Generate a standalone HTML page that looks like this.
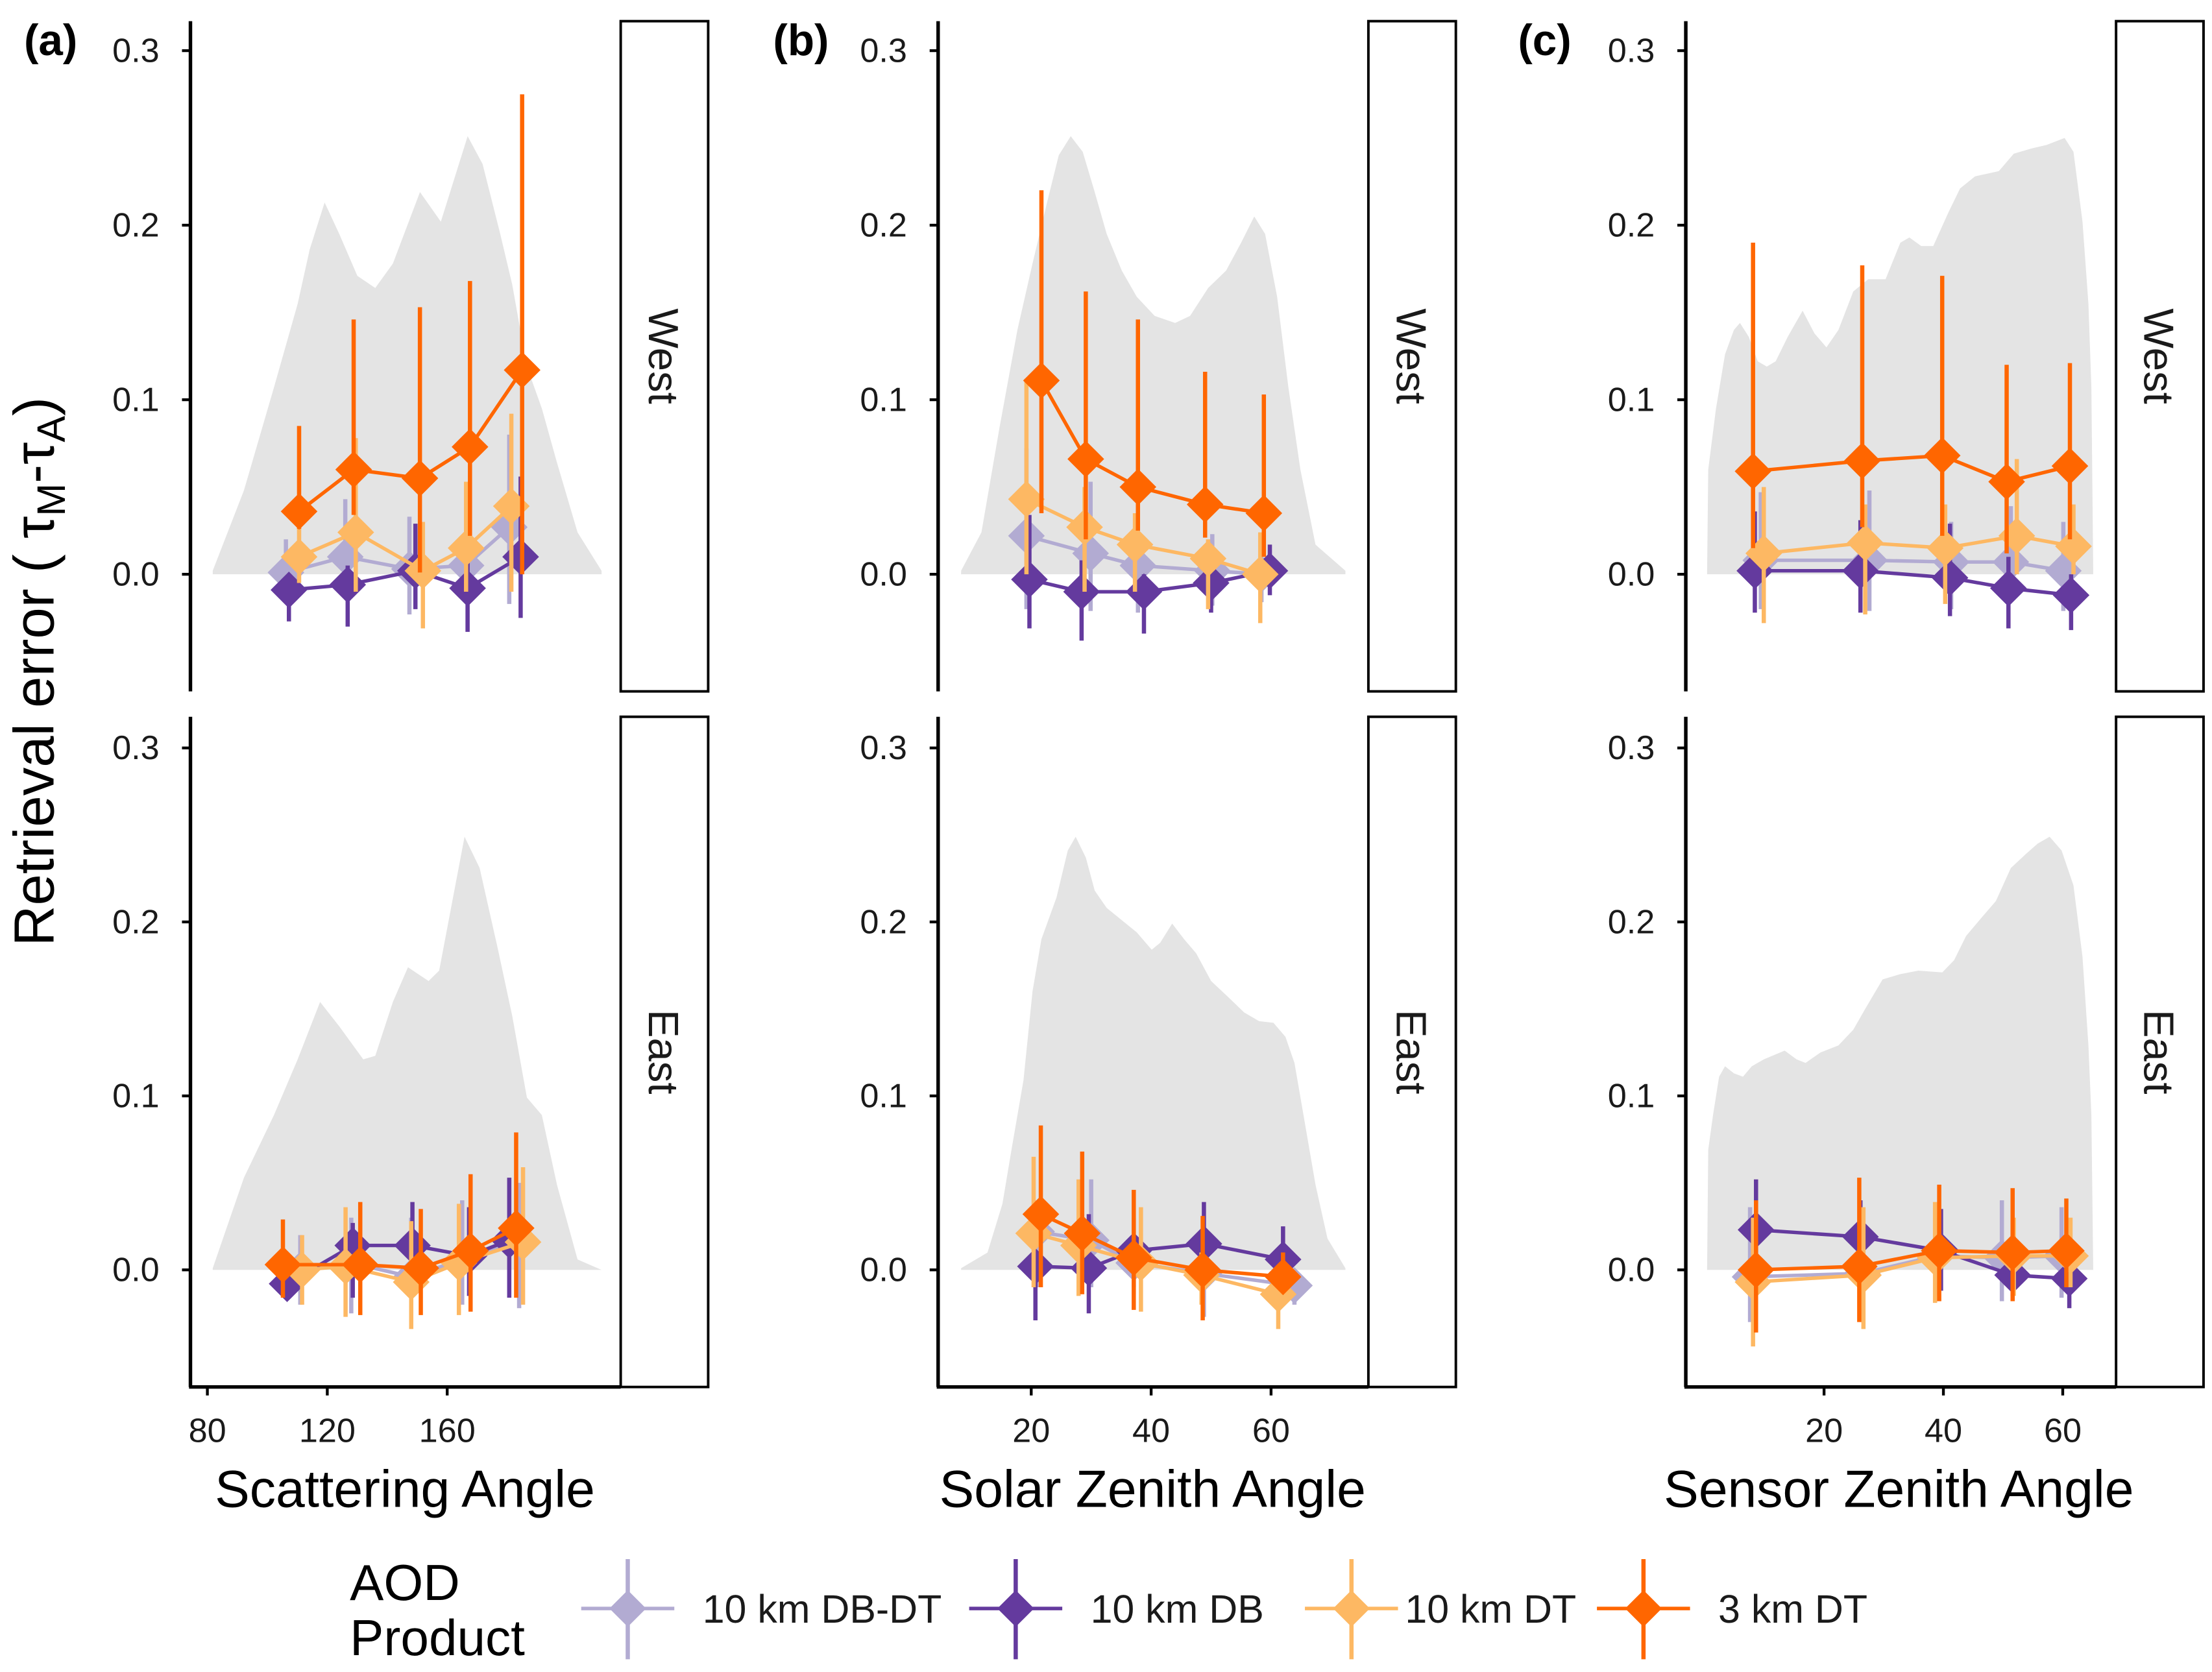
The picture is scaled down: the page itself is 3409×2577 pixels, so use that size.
<!DOCTYPE html>
<html><head><meta charset="utf-8">
<style>
html,body{margin:0;padding:0;background:#fff;}
svg{display:block;}
text{font-family:"Liberation Sans",Arial,sans-serif;}
</style></head>
<body>
<svg id="chart" width="3409" height="2577" viewBox="0 0 1568 1185" preserveAspectRatio="none" xmlns="http://www.w3.org/2000/svg">
<rect x="0" y="0" width="1568" height="1185" fill="#fff"/>
<g id="layer"></g>
<text x="17" y="39" font-size="31" font-weight="bold">(a)</text>
<text x="548" y="39" font-size="31" font-weight="bold">(b)</text>
<text x="1076" y="39" font-size="31" font-weight="bold">(c)</text>
<text transform="translate(38,476) rotate(-90)" text-anchor="middle" font-size="40">Retrieval error ( τ<tspan font-size="28" dy="8">M</tspan><tspan dy="-8">-τ</tspan><tspan font-size="28" dy="8">A</tspan><tspan dy="-8">)</tspan></text>
<text x="287" y="1068" text-anchor="middle" font-size="37">Scattering Angle</text>
<text x="817" y="1068" text-anchor="middle" font-size="37">Solar Zenith Angle</text>
<text x="1346" y="1068" text-anchor="middle" font-size="37">Sensor Zenith Angle</text>
<text x="248" y="1134" font-size="36">AOD</text>
<text x="248" y="1173" font-size="36">Product</text>
</svg>
<script>
// ---------- categories / series ----------
const seriesKeys = ["dbdt","db","dt","dt3"];
const seriesLabels = ["10 km DB-DT","10 km DB","10 km DT","3 km DT"];
const seriesColors = ["#b2abd2","#643a9e","#fdb863","#ff6600"];
const yTicks = [0.0,0.1,0.2,0.3];
const yTickLabels = ["0.0","0.1","0.2","0.3"];
const xTicksA = [80,120,160];
const xTicksB = [20,40,60];
const xTicksC = [20,40,60];

// ---------- panel (a) West ----------
const aW_dbdt_x=[106.2,126,147.4,166.3,180.7], aW_dbdt_y=[0.001,0.010,0.003,0.005,0.027], aW_dbdt_hi=[0.020,0.043,0.033,0.025,0.080], aW_dbdt_lo=[-0.010,-0.010,-0.023,-0.010,-0.017];
const aW_db_x=[107.2,126.8,149.4,166.8,184.5], aW_db_y=[-0.009,-0.006,0.002,-0.008,0.010], aW_db_hi=[0.0,0.005,0.029,0.010,0.056], aW_db_lo=[-0.027,-0.030,-0.020,-0.033,-0.025];
const aW_dt_x=[110.6,129.5,151.9,166.3,181.4], aW_dt_y=[0.010,0.024,0.002,0.015,0.039], aW_dt_hi=[0.030,0.078,0.030,0.053,0.092], aW_dt_lo=[-0.005,-0.010,-0.031,-0.010,-0.010];
const aW_dt3_x=[110.6,128.8,150.9,167.6,185], aW_dt3_y=[0.036,0.060,0.055,0.073,0.117], aW_dt3_hi=[0.085,0.146,0.153,0.168,0.275], aW_dt3_lo=[0.026,0.034,0.001,0.022,0.0];
// ---------- panel (a) East ----------
const aE_dbdt_x=[111,128,148,165,184], aE_dbdt_y=[0.0,0.004,-0.004,0.006,0.017], aE_dbdt_hi=[0.02,0.03,0.03,0.04,0.05], aE_dbdt_lo=[-0.02,-0.025,-0.03,-0.02,-0.022];
const aE_db_x=[106.6,128.5,148.4,167.3,180.7], aE_db_y=[-0.008,0.014,0.014,0.008,0.017], aE_db_hi=[0.006,0.027,0.039,0.036,0.053], aE_db_lo=[-0.017,-0.016,0.0,-0.015,-0.016];
const aE_dt_x=[111.6,126.1,148,163.9,185.3], aE_dt_y=[0,0.002,-0.007,0.004,0.016], aE_dt_hi=[0.02,0.036,0.028,0.038,0.059], aE_dt_lo=[-0.02,-0.027,-0.034,-0.026,-0.02];
const aE_dt3_x=[105.2,131,151.2,167.8,183], aE_dt3_y=[0.003,0.003,0.001,0.011,0.024], aE_dt3_hi=[0.029,0.039,0.035,0.055,0.079], aE_dt3_lo=[-0.016,-0.026,-0.026,-0.024,-0.016];
// ---------- panel (b) West ----------
const bW_dbdt_x=[19.2,29.9,37.8,50.2,58.4], bW_dbdt_y=[0.022,0.012,0.005,0.002,0.0], bW_dbdt_hi=[0.072,0.053,0.03,0.023,0.01], bW_dbdt_lo=[-0.02,-0.021,-0.022,-0.018,-0.016];
const bW_db_x=[19.7,28.4,38.8,50.0,59.8], bW_db_y=[-0.003,-0.010,-0.010,-0.005,0.002], bW_db_hi=[0.034,0.008,0.0,0.0,0.017], bW_db_lo=[-0.031,-0.038,-0.034,-0.022,-0.012];
const bW_dt_x=[19.2,28.9,37.3,49.5,58.2], bW_dt_y=[0.043,0.027,0.017,0.009,0.0], bW_dt_hi=[0.112,0.05,0.035,0.02,0.024], bW_dt_lo=[0.0,-0.01,-0.01,-0.02,-0.028];
const bW_dt3_x=[21.7,29.1,37.8,49.0,58.8], bW_dt3_y=[0.111,0.066,0.050,0.040,0.035], bW_dt3_hi=[0.220,0.162,0.146,0.116,0.103], bW_dt3_lo=[0.035,0.02,0.025,0.021,0.010];
// ---------- panel (b) East ----------
const bE_dbdt_x=[20.9,30.0,37.1,48.8,63.9], bE_dbdt_y=[0.022,0.017,0.004,-0.002,-0.009], bE_dbdt_hi=[0.04,0.052,0.03,0.01,0.0], bE_dbdt_lo=[-0.01,-0.01,-0.014,-0.027,-0.02];
const bE_db_x=[20.7,29.6,37.1,48.8,62.0], bE_db_y=[0.002,0.001,0.011,0.015,0.006], bE_db_hi=[0.01,0.032,0.02,0.039,0.025], bE_db_lo=[-0.029,-0.025,-0.01,-0.01,-0.01];
const bE_dt_x=[20.4,27.9,38.3,48.4,61.2], bE_dt_y=[0.021,0.014,0.004,-0.003,-0.014], bE_dt_hi=[0.065,0.052,0.036,0.01,0.0], bE_dt_lo=[-0.01,-0.015,-0.024,-0.02,-0.034];
const bE_dt3_x=[21.6,28.5,37.1,48.6,62.0], bE_dt3_y=[0.032,0.021,0.007,0.0,-0.004], bE_dt3_hi=[0.083,0.068,0.046,0.031,0.01], bE_dt3_lo=[-0.010,-0.014,-0.023,-0.029,-0.012];
// ---------- panel (c) West ----------
const cW_dbdt_x=[9.4,27.6,41.3,51.3,60.1], cW_dbdt_y=[0.008,0.008,0.007,0.007,0.002], cW_dbdt_hi=[0.047,0.048,0.03,0.039,0.030], cW_dbdt_lo=[-0.02,-0.021,-0.02,-0.015,-0.021];
const cW_db_x=[8.4,26.1,41.1,50.9,61.4], cW_db_y=[0.002,0.002,-0.002,-0.008,-0.012], cW_db_hi=[0.036,0.031,0.029,0.01,0.0], cW_db_lo=[-0.022,-0.022,-0.024,-0.031,-0.032];
const cW_dt_x=[9.9,26.9,40.3,52.3,61.8], cW_dt_y=[0.012,0.018,0.015,0.022,0.016], cW_dt_hi=[0.05,0.04,0.04,0.066,0.04], cW_dt_lo=[-0.028,-0.023,-0.017,0.0,0.0];
const cW_dt3_x=[8.1,26.4,39.8,50.6,61.2], cW_dt3_y=[0.059,0.065,0.068,0.053,0.062], cW_dt3_hi=[0.190,0.177,0.171,0.120,0.121], cW_dt3_lo=[0.015,0.027,0.022,0.012,0.020];
// ---------- panel (c) East ----------
const cE_dbdt_x=[7.6,26.4,38.8,49.8,59.8], cE_dbdt_y=[-0.004,-0.002,0.008,0.007,0.008], cE_dbdt_hi=[0.036,0.03,0.03,0.040,0.036], cE_dbdt_lo=[-0.03,-0.03,-0.015,-0.018,-0.016];
const cE_db_x=[8.6,26.1,39.6,51.6,61.1], cE_db_y=[0.023,0.019,0.011,-0.003,-0.005], cE_db_hi=[0.052,0.04,0.035,0.02,0.01], cE_db_lo=[0.0,0.0,-0.012,-0.015,-0.022];
const cE_dt_x=[8.1,26.6,38.6,51.8,61.3], cE_dt_y=[-0.007,-0.003,0.007,0.008,0.008], cE_dt_hi=[0.03,0.036,0.039,0.03,0.03], cE_dt_lo=[-0.044,-0.034,-0.019,-0.015,-0.01];
const cE_dt3_x=[8.6,25.9,39.3,51.6,60.6], cE_dt3_y=[0.0,0.002,0.011,0.010,0.011], cE_dt3_hi=[0.04,0.053,0.049,0.047,0.041], cE_dt3_lo=[-0.036,-0.030,-0.018,-0.018,-0.01];

// ---------- density backgrounds ----------
const dens_aW_x=[81.8,92.2,102.2,110.1,114.1,119.1,124,130,136,141.9,150.9,157.9,166.8,171.8,177.7,181.7,186.6,191.6,196.6,203.5,211.5];
const dens_aW_y=[0.002,0.048,0.107,0.155,0.186,0.213,0.195,0.171,0.164,0.178,0.219,0.202,0.251,0.235,0.195,0.166,0.119,0.095,0.064,0.024,0.002];
const dens_aE_x=[81.8,92.2,102.2,110.1,117.6,124,132,136,141.9,146.9,153.8,157.3,165.8,170.8,176.7,181.7,186.6,191.6,196.6,203.5,211.5];
const dens_aE_y=[0.001,0.053,0.089,0.121,0.154,0.140,0.121,0.123,0.154,0.174,0.166,0.172,0.249,0.231,0.186,0.146,0.099,0.089,0.049,0.006,0.0];
const dens_bW_x=[8.3,11.7,14.7,17.7,20.2,22.7,24.6,26.6,28.6,30.6,32.6,35.1,37.6,40.6,44.0,46.5,49.5,52.5,55.0,57.2,59.0,61.0,62.9,64.9,67.4,72.4];
const dens_bW_y=[0.002,0.024,0.084,0.140,0.178,0.214,0.240,0.251,0.242,0.219,0.195,0.174,0.159,0.148,0.144,0.148,0.164,0.174,0.190,0.205,0.195,0.159,0.107,0.060,0.017,0.002];
const dens_bE_x=[8.3,12.7,15.2,16.7,18.7,20.2,21.7,24.2,26.1,27.4,29.1,30.6,32.6,37.6,40.1,41.5,43.5,45.5,47.5,50.0,52.5,55.5,58.0,60.4,62.4,63.9,65.4,67.4,69.4,72.4];
const dens_bE_y=[0.001,0.010,0.038,0.069,0.109,0.160,0.190,0.214,0.241,0.249,0.237,0.218,0.208,0.194,0.184,0.188,0.199,0.190,0.182,0.166,0.158,0.148,0.143,0.142,0.134,0.119,0.089,0.049,0.018,0.001];
const dens_cW_x=[0.4,0.6,1.9,3.4,4.9,5.9,7.4,8.9,10.4,11.9,13.9,16.4,18.4,20.4,22.4,24.9,27.4,30.3,32.8,34.3,36.3,38.3,40.8,42.8,45.3,49.3,51.8,54.8,57.3,60.3,61.8,63.3,64.3,64.8,65.1];
const dens_cW_y=[0.002,0.060,0.095,0.126,0.140,0.144,0.136,0.122,0.119,0.122,0.136,0.151,0.138,0.130,0.140,0.162,0.169,0.169,0.190,0.193,0.188,0.188,0.207,0.221,0.228,0.231,0.241,0.244,0.246,0.250,0.242,0.202,0.155,0.107,0.002];
const dens_cE_x=[0.4,0.6,1.4,2.4,3.4,4.9,6.4,7.9,9.9,13.4,15.4,16.9,19.4,22.4,24.9,26.9,29.8,32.8,35.8,39.8,41.8,43.8,46.3,48.8,51.3,53.8,55.8,57.8,59.8,61.8,63.3,64.3,64.8,65.1];
const dens_cE_y=[0.001,0.069,0.089,0.111,0.117,0.113,0.111,0.117,0.121,0.126,0.121,0.119,0.125,0.129,0.138,0.150,0.167,0.170,0.172,0.171,0.178,0.192,0.202,0.212,0.231,0.239,0.245,0.249,0.241,0.221,0.180,0.129,0.089,0.001];

// ---------- rendering ----------
const NS="http://www.w3.org/2000/svg";
const layer=document.getElementById('layer');
function mk(tag,attrs,parent){const e=document.createElementNS(NS,tag);for(const k in attrs)e.setAttribute(k,attrs[k]);(parent||layer).appendChild(e);return e;}

const xScales={
  a:v=>147+(v-80)*2.125,
  b:v=>731+(v-20)*4.25,
  c:v=>1293+(v-20)*4.23
};
const yScaleTop=v=>407-v*1237;
const yScaleBot=v=>900-v*1233;
const panelLeft={a:135,b:665,c:1195};
const PW=305, SW=62;
const facetData={
  aW:{dx:dens_aW_x,dy:dens_aW_y,s:{dbdt:[aW_dbdt_x,aW_dbdt_y,aW_dbdt_lo,aW_dbdt_hi],db:[aW_db_x,aW_db_y,aW_db_lo,aW_db_hi],dt:[aW_dt_x,aW_dt_y,aW_dt_lo,aW_dt_hi],dt3:[aW_dt3_x,aW_dt3_y,aW_dt3_lo,aW_dt3_hi]}},
  aE:{dx:dens_aE_x,dy:dens_aE_y,s:{dbdt:[aE_dbdt_x,aE_dbdt_y,aE_dbdt_lo,aE_dbdt_hi],db:[aE_db_x,aE_db_y,aE_db_lo,aE_db_hi],dt:[aE_dt_x,aE_dt_y,aE_dt_lo,aE_dt_hi],dt3:[aE_dt3_x,aE_dt3_y,aE_dt3_lo,aE_dt3_hi]}},
  bW:{dx:dens_bW_x,dy:dens_bW_y,s:{dbdt:[bW_dbdt_x,bW_dbdt_y,bW_dbdt_lo,bW_dbdt_hi],db:[bW_db_x,bW_db_y,bW_db_lo,bW_db_hi],dt:[bW_dt_x,bW_dt_y,bW_dt_lo,bW_dt_hi],dt3:[bW_dt3_x,bW_dt3_y,bW_dt3_lo,bW_dt3_hi]}},
  bE:{dx:dens_bE_x,dy:dens_bE_y,s:{dbdt:[bE_dbdt_x,bE_dbdt_y,bE_dbdt_lo,bE_dbdt_hi],db:[bE_db_x,bE_db_y,bE_db_lo,bE_db_hi],dt:[bE_dt_x,bE_dt_y,bE_dt_lo,bE_dt_hi],dt3:[bE_dt3_x,bE_dt3_y,bE_dt3_lo,bE_dt3_hi]}},
  cW:{dx:dens_cW_x,dy:dens_cW_y,s:{dbdt:[cW_dbdt_x,cW_dbdt_y,cW_dbdt_lo,cW_dbdt_hi],db:[cW_db_x,cW_db_y,cW_db_lo,cW_db_hi],dt:[cW_dt_x,cW_dt_y,cW_dt_lo,cW_dt_hi],dt3:[cW_dt3_x,cW_dt3_y,cW_dt3_lo,cW_dt3_hi]}},
  cE:{dx:dens_cE_x,dy:dens_cE_y,s:{dbdt:[cE_dbdt_x,cE_dbdt_y,cE_dbdt_lo,cE_dbdt_hi],db:[cE_db_x,cE_db_y,cE_db_lo,cE_db_hi],dt:[cE_dt_x,cE_dt_y,cE_dt_lo,cE_dt_hi],dt3:[cE_dt3_x,cE_dt3_y,cE_dt3_lo,cE_dt3_hi]}}
};
const xTickSets={a:xTicksA,b:xTicksB,c:xTicksC};

function diamond(cx,cy,r){return `M${cx},${cy-r} L${cx+r},${cy} L${cx},${cy+r} L${cx-r},${cy} Z`;}

["a","b","c"].forEach(p=>{
  const xs=xScales[p], L=panelLeft[p], R=L+PW;
  [["W",yScaleTop,15,490,"West"],["E",yScaleBot,508,983,"East"]].forEach(([r,ys,top,bot,lab])=>{
    const f=facetData[p+r];
    const g=mk('g',{});
    
    
    let d=`M${xs(f.dx[0])},${ys(0)} `;
    f.dx.forEach((v,i)=>{d+=`L${xs(v).toFixed(1)},${ys(f.dy[i]).toFixed(1)} `;});
    d+=`L${xs(f.dx[f.dx.length-1])},${ys(0)} Z`;
    const dp=mk('path',{d:d,fill:'#e4e4e4',stroke:'none'},g);
    
    
    seriesKeys.forEach((k,si)=>{
      const [X,Y,LO,HI]=f.s[k]; const col=seriesColors[si];
      const sg=mk('g',{},g);
      
      
      X.forEach((xv,i)=>{
        const eb=mk('line',{x1:xs(xv),x2:xs(xv),y1:ys(LO[i]),y2:ys(HI[i]),stroke:col,'stroke-width':3},sg);
        
        
      });
      const pts=X.map((xv,i)=>xs(xv).toFixed(1)+','+ys(Y[i]).toFixed(1)).join(' ');
      const pl=mk('polyline',{points:pts,fill:'none',stroke:col,'stroke-width':2.5},sg);
      
      
      X.forEach((xv,i)=>{
        const dm=mk('path',{d:diamond(xs(xv),ys(Y[i]),13),fill:col},sg);
        
        
      });
    });
    const ax=mk('line',{x1:L,x2:L,y1:top,y2:bot,stroke:'#000','stroke-width':2.5},g);
    
    
    yTicks.forEach((t,i)=>{
      const tk=mk('line',{x1:L-6,x2:L,y1:ys(t),y2:ys(t),stroke:'#000','stroke-width':2},g);
      
      
      const tl=mk('text',{x:L-22,y:ys(t)+8,'text-anchor':'end','font-size':24,fill:'#1a1a1a'},g);
      tl.textContent=yTickLabels[i];
      
      
    });
    const st=mk('rect',{x:R,y:top,width:SW,height:bot-top,fill:'#fff',stroke:'#000','stroke-width':1.8},g);
    
    
    const stx=mk('text',{transform:`translate(${R+20},${(top+bot)/2}) rotate(90)`,'text-anchor':'middle','font-size':30,fill:'#1a1a1a'},g);
    stx.textContent=lab;
    
    
    if(r==="E"){
      const xa=mk('line',{x1:L-1,x2:R,y1:983,y2:983,stroke:'#000','stroke-width':2.5},g);
      
      
      xTickSets[p].forEach(t=>{
        const tk=mk('line',{x1:xs(t),x2:xs(t),y1:983,y2:989,stroke:'#000','stroke-width':2},g);
        
        
        const tl=mk('text',{x:xs(t),y:1022,'text-anchor':'middle','font-size':24,fill:'#1a1a1a'},g);
        tl.textContent=String(t);
        
        
      });
    }
  });
});

const legendKeyX=[445,720,958,1165];
const legendTextX=[498,773,996,1218];
seriesKeys.forEach((k,i)=>{
  const g=mk('g',{});
  
  
  const cx=legendKeyX[i], cy=1140, col=seriesColors[i];
  mk('line',{x1:cx,x2:cx,y1:1105,y2:1176,stroke:col,'stroke-width':3},g);
  mk('line',{x1:cx-33,x2:cx+33,y1:cy,y2:cy,stroke:col,'stroke-width':2.5},g);
  mk('path',{d:diamond(cx,cy,13),fill:col},g);
  const t=mk('text',{x:legendTextX[i],y:1150,'font-size':28,fill:'#1a1a1a'},g);
  t.textContent=seriesLabels[i];
  
  
});
</script>
</body></html>
